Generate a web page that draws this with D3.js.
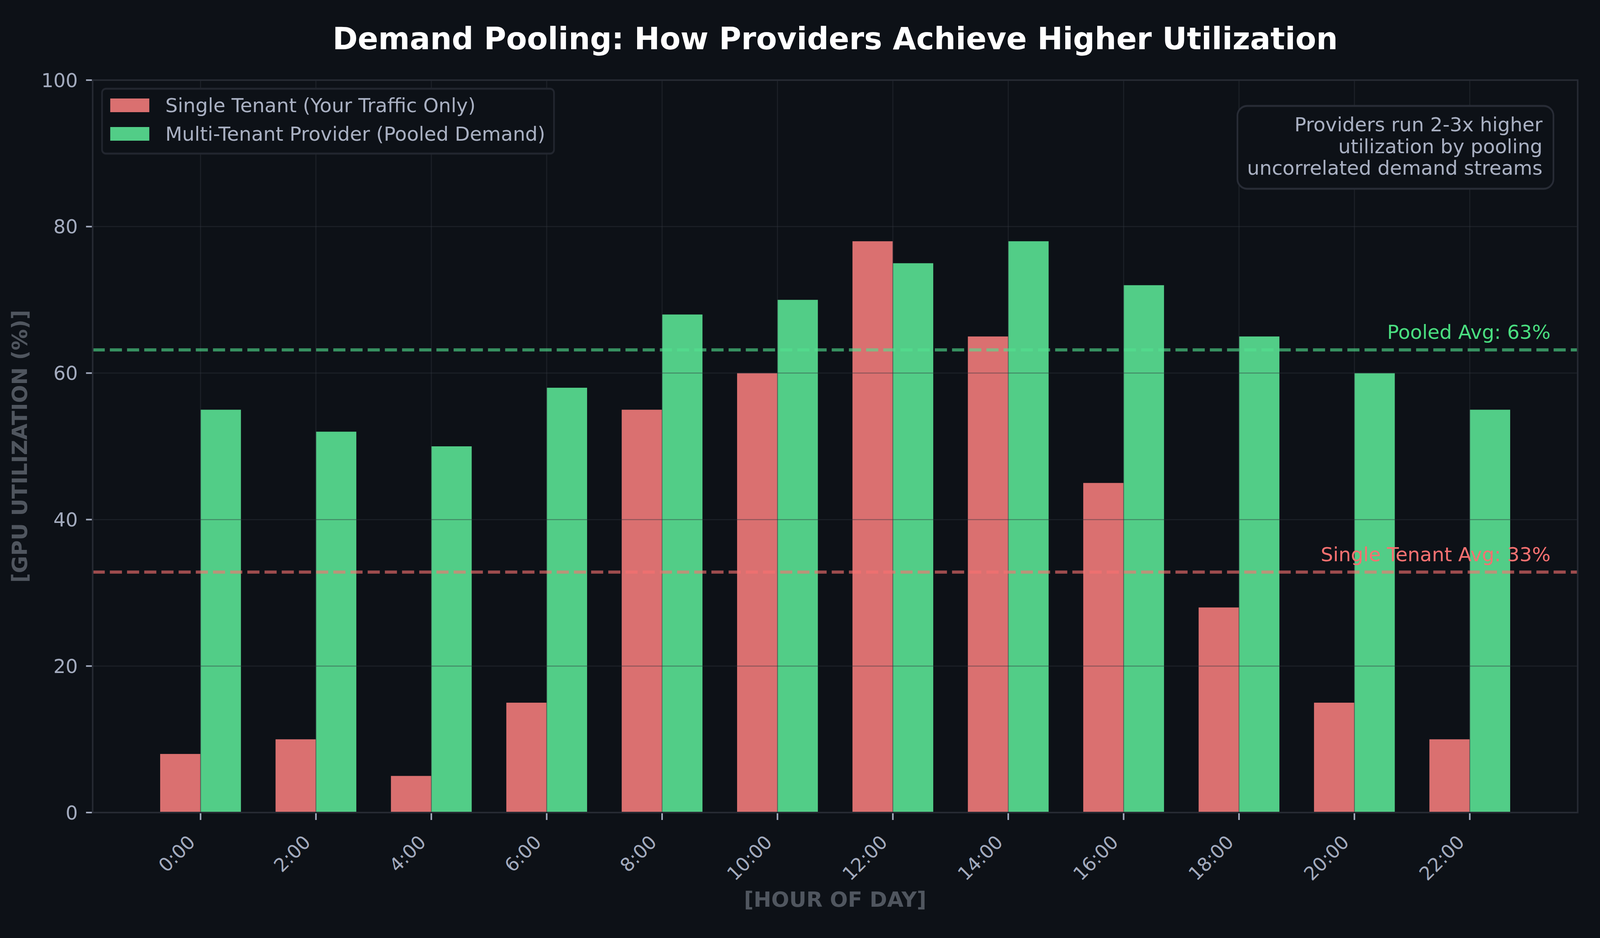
<!DOCTYPE html>
<html>
<head>
<meta charset="utf-8">
<script src="https://cdn.jsdelivr.net/npm/d3@7"></script>
<style>
  html, body { margin: 0; padding: 0; background: #0d1117; overflow: hidden; width: 100%; height: 100%; }
  #chart { width: 100vw; height: 100vh; }
  svg { display: block; width: 100%; height: 100%; }
</style>
</head>
<body>
<div id="chart"></div>
<script>
// hours on the x axis
var hours = ['0:00', '2:00', '4:00', '6:00', '8:00', '10:00', '12:00', '14:00', '16:00', '18:00', '20:00', '22:00'];
// GPU utilization in %
var singleTenant = [8, 10, 5, 15, 55, 60, 78, 65, 45, 28, 15, 10];
var pooled = [55, 52, 50, 58, 68, 70, 75, 78, 72, 65, 60, 55];
var yTicks = [0, 20, 40, 60, 80, 100];
var seriesNames = ['Single Tenant (Your Traffic Only)', 'Multi-Tenant Provider (Pooled Demand)'];
var noteLines = ['Providers run 2-3x higher', 'utilization by pooling', 'uncorrelated demand streams'];

var W = 4800, H = 2400;
var plotLeft = 278, plotRight = 4733, plotTop = 205, plotBottom = 2079;
var barW = 0.35;
var font = '"DejaVu Sans", sans-serif';
var tickColor = '#a3abbe';

// the drawing is stretched to fill the window; k undoes the stretch for text
var vw = window.innerWidth || W, vh = window.innerHeight || H;
var k = (vh / H) / (vw / W);

var svg = d3.select('#chart').append('svg')
	.attr('viewBox', '0 0 ' + W + ' ' + H)
	.attr('preserveAspectRatio', 'none')
	.style('font-family', font);

function place(px, py, angle){
	return 'translate(' + px + ',' + py + ') scale(' + k + ',1)' + (angle ? ' rotate(' + angle + ')' : '');
}

svg.append('rect').attr('width', W).attr('height', H).attr('fill', '#0d1117');

// same padding as matplotlib: 5% of the bar extent
var span = (hours.length - 1 + barW) - (-barW);
var x = d3.scaleLinear()
	.domain([-barW - span * 0.05, hours.length - 1 + barW + span * 0.05])
	.range([plotLeft, plotRight]);
var y = d3.scaleLinear().domain([0, 100]).range([plotBottom, plotTop]);

// bars
var bars = svg.append('g').attr('class', 'bars');
bars.selectAll('rect.single')
	.data(singleTenant)
	.enter()
	.append('rect')
	.attr('class', 'single')
	.attr('x', function(d, i){ return x(i - barW); })
	.attr('width', function(d, i){ return x(i) - x(i - barW); })
	.attr('y', function(d){ return y(d); })
	.attr('height', function(d){ return y(0) - y(d); })
	.attr('fill', '#da7070');

bars.selectAll('rect.pooled')
	.data(pooled)
	.enter()
	.append('rect')
	.attr('class', 'pooled')
	.attr('x', function(d, i){ return x(i); })
	.attr('width', function(d, i){ return x(i + barW) - x(i); })
	.attr('y', function(d){ return y(d); })
	.attr('height', function(d){ return y(0) - y(d); })
	.attr('fill', '#52cd87');

// grid (sits above the bars in the original)
var grid = svg.append('g').attr('class', 'grid')
	.attr('stroke', '#30363d')
	.attr('stroke-opacity', 0.45)
	.attr('stroke-width', 2.5);
grid.selectAll('line.h')
	.data(yTicks)
	.enter()
	.append('line')
	.attr('class', 'h')
	.attr('x1', plotLeft).attr('x2', plotRight)
	.attr('y1', function(d){ return y(d); })
	.attr('y2', function(d){ return y(d); });
grid.selectAll('line.v')
	.data(hours)
	.enter()
	.append('line')
	.attr('class', 'v')
	.attr('x1', function(d, i){ return x(i); })
	.attr('x2', function(d, i){ return x(i); })
	.attr('y1', plotTop).attr('y2', plotBottom)
	.attr('stroke-width', 2.5 * k);

// average lines
var avgs = [
	{ value: d3.mean(pooled), line: '#52e08f', text: '#4ade80', label: 'Pooled Avg: ' },
	{ value: d3.mean(singleTenant), line: '#f87171', text: '#f87171', label: 'Single Tenant Avg: ' }
];
var avgG = svg.append('g').attr('class', 'averages');
avgG.selectAll('line')
	.data(avgs)
	.enter()
	.append('line')
	.attr('x1', plotLeft).attr('x2', plotRight)
	.attr('y1', function(d){ return y(d.value); })
	.attr('y2', function(d){ return y(d.value); })
	.attr('stroke', function(d){ return d.line; })
	.attr('stroke-opacity', 0.62)
	.attr('stroke-width', 8)
	.attr('stroke-dasharray', (31 * k) + ',' + (13 * k));
avgG.selectAll('text')
	.data(avgs)
	.enter()
	.append('text')
	.attr('transform', function(d){ return place(x(11.7), y(d.value + 1.5)); })
	.attr('text-anchor', 'end')
	.attr('font-size', 50)
	.attr('fill', function(d){ return d.text; })
	.text(function(d){ return d.label + Math.round(d.value) + '%'; });

// spines
var spines = svg.append('g').attr('class', 'spines')
	.attr('stroke', '#262a33')
	.attr('stroke-width', 4);
[[plotLeft, plotTop, plotRight, plotTop], [plotLeft, plotBottom, plotRight, plotBottom]].forEach(function(s){
	spines.append('line').attr('x1', s[0]).attr('y1', s[1]).attr('x2', s[2]).attr('y2', s[3]);
});
[plotLeft, plotRight].forEach(function(sx){
	spines.append('line').attr('x1', sx).attr('y1', plotTop - 2).attr('x2', sx).attr('y2', plotBottom + 2)
		.attr('stroke-width', 4 * k);
});

// y axis ticks
var yAxis = svg.append('g').attr('class', 'y-axis');
yAxis.selectAll('line')
	.data(yTicks)
	.enter()
	.append('line')
	.attr('x1', plotLeft - 17 * k).attr('x2', plotLeft - 2 * k)
	.attr('y1', function(d){ return y(d); })
	.attr('y2', function(d){ return y(d); })
	.attr('stroke', tickColor)
	.attr('stroke-width', 4);
yAxis.selectAll('text')
	.data(yTicks)
	.enter()
	.append('text')
	.attr('transform', function(d){ return place(plotLeft - 38 * k, y(d)); })
	.attr('dy', '0.36em')
	.attr('text-anchor', 'end')
	.attr('font-size', 49)
	.attr('fill', tickColor)
	.text(function(d){ return d; });

// x axis ticks
var xAxis = svg.append('g').attr('class', 'x-axis');
xAxis.selectAll('line')
	.data(hours)
	.enter()
	.append('line')
	.attr('x1', function(d, i){ return x(i); })
	.attr('x2', function(d, i){ return x(i); })
	.attr('y1', plotBottom + 2).attr('y2', plotBottom + 19)
	.attr('stroke', tickColor)
	.attr('stroke-width', 4 * k);
xAxis.selectAll('text')
	.data(hours)
	.enter()
	.append('text')
	.attr('transform', function(d, i){ return place(x(i) - 11 * k, plotBottom + 79, -45); })
	.attr('text-anchor', 'end')
	.attr('font-size', 48)
	.attr('fill', tickColor)
	.text(function(d){ return d; });

// axis labels
svg.append('text')
	.attr('transform', place((plotLeft + plotRight) / 2, 2320))
	.attr('text-anchor', 'middle')
	.attr('font-size', 54)
	.attr('font-weight', 'bold')
	.attr('fill', '#50565f')
	.text('[HOUR OF DAY]');
svg.append('text')
	.attr('transform', place(plotLeft - 168 * k, (plotTop + plotBottom) / 2, -90))
	.attr('text-anchor', 'middle')
	.attr('font-size', 54)
	.attr('font-weight', 'bold')
	.attr('fill', '#50565f')
	.text('[GPU UTILIZATION (%)]');

// title
svg.append('text')
	.attr('transform', place((plotLeft + plotRight) / 2, 126))
	.attr('text-anchor', 'middle')
	.attr('font-size', 77.5)
	.attr('font-weight', 'bold')
	.attr('fill', '#ffffff')
	.text('Demand Pooling: How Providers Achieve Higher Utilization');

// legend
var legendX = plotLeft + 24 * k;
var legend = svg.append('g').attr('class', 'legend');
legend.append('rect')
	.attr('x', legendX).attr('y', 227)
	.attr('width', 1157 * k).attr('height', 166)
	.attr('rx', 10 * k).attr('ry', 10)
	.attr('fill', '#0d1117')
	.attr('stroke', '#22262f')
	.attr('stroke-width', 5);
var legendColors = ['#da7070', '#52cd87'];
var rows = legend.selectAll('g.row')
	.data(seriesNames)
	.enter()
	.append('g')
	.attr('class', 'row');
rows.append('rect')
	.attr('x', legendX + 21 * k)
	.attr('y', function(d, i){ return 252 + i * 73; })
	.attr('width', 100 * k).attr('height', 35)
	.attr('fill', function(d, i){ return legendColors[i]; });
rows.append('text')
	.attr('transform', function(d, i){ return place(legendX + 162 * k, 287 + i * 73); })
	.attr('font-size', 50)
	.attr('fill', '#a9b0c2')
	.text(function(d){ return d; });

// annotation box
var noteRight = plotRight - 62 * k;
var note = svg.append('g').attr('class', 'note');
note.append('rect')
	.attr('x', noteRight - 809 * k).attr('y', 271)
	.attr('width', 809 * k).attr('height', 212)
	.attr('rx', 25 * k).attr('ry', 25)
	.attr('fill', '#0d1117')
	.attr('stroke', '#282c36')
	.attr('stroke-width', 5);
note.selectAll('text')
	.data(noteLines)
	.enter()
	.append('text')
	.attr('transform', function(d, i){ return place(noteRight - 28 * k, 336 + i * 55.5); })
	.attr('text-anchor', 'end')
	.attr('font-size', 50)
	.attr('fill', '#a9b0c2')
	.text(function(d){ return d; });
</script>
</body>
</html>
